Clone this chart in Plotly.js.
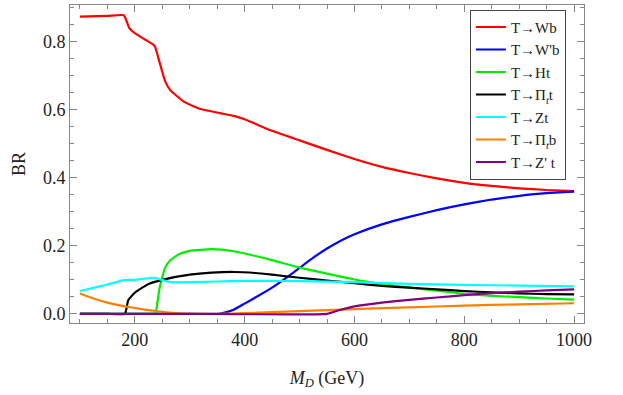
<!DOCTYPE html>
<html>
<head>
<meta charset="utf-8">
<script src="https://cdn.plot.ly/plotly-3.0.1.min.js"></script>
<style>html,body{margin:0;padding:0;background:#fff;}#chart{width:623px;height:395px;}</style>
</head>
<body>
<div id="chart"></div>
<script>
// Data (x = M_D in GeV, y = branching ratio)
const wbX = [100,150,180,190,200,220,236,245,255,265,290,320,355,380,400,450,500,550,600,650,700,750,800,850,900,950,1000];
const wbY = [0.874,0.876,0.878,0.840,0.825,0.805,0.788,0.740,0.685,0.657,0.623,0.602,0.590,0.582,0.572,0.538,0.510,0.482,0.455,0.432,0.414,0.398,0.385,0.376,0.369,0.364,0.361];

const wpbX = [100,200,300,350,360,380,400,425,450,475,500,525,550,575,600,650,700,750,800,850,900,950,1000];
const wpbY = [0,0,0,0,0.002,0.012,0.030,0.053,0.077,0.105,0.135,0.165,0.192,0.215,0.234,0.263,0.285,0.305,0.322,0.336,0.347,0.355,0.359];

const htX = [100,200,236,238,245,255,265,280,300,340,380,420,450,500,550,600,650,700,750,800,850,900,950,1000];
const htY = [0,0,0,0.002,0.075,0.135,0.158,0.175,0.185,0.190,0.184,0.170,0.158,0.136,0.118,0.101,0.088,0.077,0.068,0.059,0.053,0.049,0.045,0.042];

const pitX = [100,150,182,188,200,225,250,300,340,380,420,450,500,550,600,650,700,750,800,850,900,950,1000];
const pitY = [0,0,0,0.040,0.062,0.088,0.100,0.115,0.121,0.123,0.120,0.115,0.106,0.098,0.090,0.082,0.077,0.072,0.067,0.063,0.060,0.058,0.057];

const ztX = [100,140,180,200,236,250,265,300,350,400,450,500,600,700,800,900,1000];
const ztY = [0.067,0.082,0.099,0.100,0.106,0.099,0.093,0.093,0.095,0.097,0.097,0.096,0.093,0.088,0.085,0.083,0.081];

const pibX = [100,125,150,175,200,225,250,275,300,350,400,450,500,550,600,700,800,900,1000];
const pibY = [0.060,0.045,0.033,0.024,0.017,0.011,0.006,0.002,0,0,0.002,0.005,0.008,0.011,0.014,0.019,0.024,0.028,0.031];

const zptX = [100,300,550,575,600,650,700,750,800,850,900,950,1000];
const zptY = [0,0,0,0.012,0.022,0.033,0.041,0.048,0.055,0.061,0.065,0.069,0.072];

const names = ["T→Wb","T→W'b","T→Ht","T→Π<sub><i>t</i></sub>t","T→Zt","T→Π<sub><i>t</i></sub>b","T→Z' t"];
const colors = ["#ff0000","#0000ff","#00ee00","#000000","#00ffff","#ff8000","#800080"];
const xs = [wbX,wpbX,htX,pitX,ztX,pibX,zptX];
const ys = [wbY,wpbY,htY,pitY,ztY,pibY,zptY];

const traces = names.map((n,i)=>({
  x: xs[i], y: ys[i], name: n, type: 'scatter', mode: 'lines',
  line: {color: colors[i], width: 2.2, shape: 'spline', smoothing: 0.4}
}));

const fam = 'Liberation Serif';
const axisCommon = {
  showgrid: false, zeroline: false, showline: true, linecolor: '#888', linewidth: 1,
  mirror: 'ticks', ticks: 'inside', ticklen: 7, tickcolor: '#888', tickwidth: 1,
  tickfont: {family: fam, size: 18, color: '#222'}
};

const layout = {
  width: 623, height: 395,
  margin: {l: 70, r: 39, t: 5, b: 72},
  paper_bgcolor: '#fff', plot_bgcolor: '#fff',
  font: {family: fam, size: 18, color: '#222'},
  showlegend: true,
  legend: {
    x: 0.778, y: 0.985, xanchor: 'left', yanchor: 'top',
    bgcolor: '#fff', bordercolor: '#444', borderwidth: 1,
    font: {family: fam, size: 15, color: '#222'},
    tracegroupgap: 0, itemwidth: 30
  },
  xaxis: Object.assign({}, axisCommon, {
    range: [82, 1018], tick0: 0, dtick: 200,
    minor: {dtick: 50, ticks: 'inside', ticklen: 4, tickcolor: '#888'},
    title: {text: '<i>M</i><sub><i>D</i></sub> (GeV)', font: {family: fam, size: 18, color: '#222'}, standoff: 22}
  }),
  yaxis: Object.assign({}, axisCommon, {
    range: [-0.027, 0.908], tick0: 0, dtick: 0.2, tickformat: '.1f',
    minor: {dtick: 0.05, ticks: 'inside', ticklen: 4, tickcolor: '#888'},
    title: {text: 'BR', font: {family: fam, size: 18, color: '#222'}, standoff: 12}
  })
};

Plotly.newPlot('chart', traces, layout, {displayModeBar: false, staticPlot: true});
</script>
</body>
</html>
